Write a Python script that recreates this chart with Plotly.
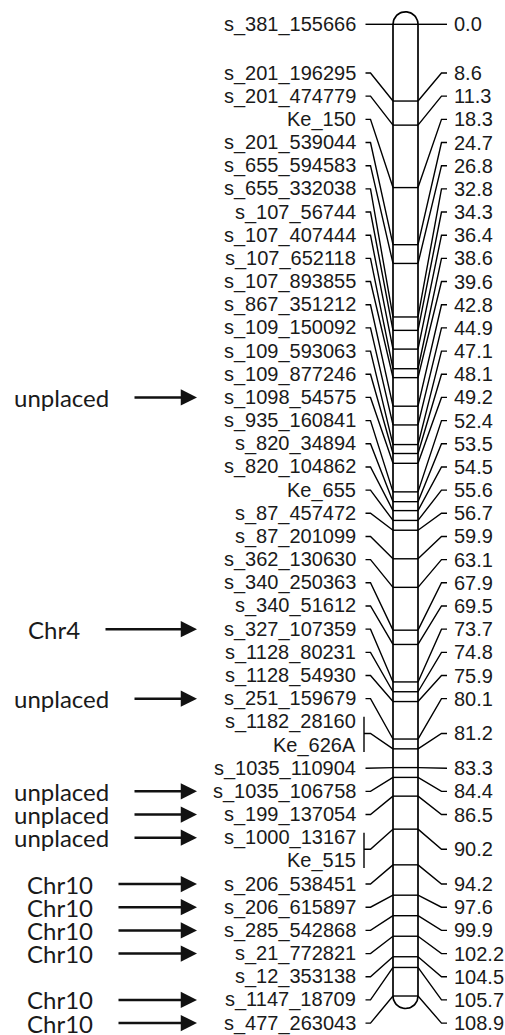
import math
import plotly.graph_objects as go

# ---------------- data ----------------
marker_names = [
    "s_381_155666", "s_201_196295", "s_201_474779", "Ke_150", "s_201_539044",
    "s_655_594583", "s_655_332038", "s_107_56744", "s_107_407444", "s_107_652118",
    "s_107_893855", "s_867_351212", "s_109_150092", "s_109_593063", "s_109_877246",
    "s_1098_54575", "s_935_160841", "s_820_34894", "s_820_104862", "Ke_655",
    "s_87_457472", "s_87_201099", "s_362_130630", "s_340_250363", "s_340_51612",
    "s_327_107359", "s_1128_80231", "s_1128_54930", "s_251_159679", "s_1182_28160",
    "Ke_626A", "s_1035_110904", "s_1035_106758", "s_199_137054", "s_1000_13167",
    "Ke_515", "s_206_538451", "s_206_615897", "s_285_542868", "s_21_772821",
    "s_12_353138", "s_1147_18709", "s_477_263043",
]
marker_cm = [
    0.0, 8.6, 11.3, 18.3, 24.7,
    26.8, 32.8, 34.3, 36.4, 38.6,
    39.6, 42.8, 44.9, 47.1, 48.1,
    49.2, 52.4, 53.5, 54.5, 55.6,
    56.7, 59.9, 63.1, 67.9, 69.5,
    73.7, 74.8, 75.9, 80.1, 81.2,
    81.2, 83.3, 84.4, 86.5, 90.2,
    90.2, 94.2, 97.6, 99.9, 102.2,
    104.5, 105.7, 108.9,
]
source_markers = [
    "s_1098_54575", "s_327_107359", "s_251_159679", "s_1035_106758",
    "s_199_137054", "s_1000_13167", "s_206_538451", "s_206_615897",
    "s_285_542868", "s_21_772821", "s_1147_18709", "s_477_263043",
]
source_labels = [
    "unplaced", "Chr4", "unplaced", "unplaced",
    "unplaced", "unplaced", "Chr10", "Chr10",
    "Chr10", "Chr10", "Chr10", "Chr10",
]

# ---------------- layout constants ----------------
FIG_W, FIG_H = 505, 1035
PX_PER_CM = 8.923
TOP_OFFSET_PX = 24.3
Y_TOP = -TOP_OFFSET_PX / PX_PER_CM
Y_BOT = (FIG_H - TOP_OFFSET_PX) / PX_PER_CM


def cm(px_len):
    return px_len / PX_PER_CM


LABEL_START = 5.458
LABEL_STEP = 2.597
CHR_L, CHR_R = 393, 418
CHR_R_PX = (CHR_R - CHR_L) / 2
CHR_CX = (CHR_L + CHR_R) / 2
LEFT_TEXT_X = 358
LEFT_STUB_A, LEFT_STUB_B = 365.5, 370.5
BRACKET_X = 364
RIGHT_BEND, RIGHT_END = 441.5, 447
RIGHT_TEXT_X = 452
ARROW_TIP = 197
ARROW_TAIL = {"unplaced": 133, "Chr4": 104, "Chr10": 117}
ARROW_GAP = 22
INK = "#000000"
LABEL_FONT = dict(family="Liberation Sans, Arial, sans-serif", size=20, color="#1a1a1a")
SRC_FONT = dict(family="Lato, Carlito, Calibri, sans-serif", size=24, color="#1a1a1a")

# label slot positions (in cM units of the axis)
label_y = [marker_cm[0]] + [LABEL_START + LABEL_STEP * (i - 1) for i in range(1, len(marker_names))]

# group co-located markers
groups = []
for i, p in enumerate(marker_cm):
    if groups and groups[-1]["pos"] == p:
        groups[-1]["idx"].append(i)
    else:
        groups.append({"pos": p, "idx": [i]})

lx, ly = [], []


def seg(xs, ys):
    lx.extend(xs + [None])
    ly.extend(ys + [None])


annotations = []
for g in groups:
    p = g["pos"]
    ys = [label_y[i] for i in g["idx"]]
    mid = sum(ys) / len(ys)
    if len(ys) == 1:
        seg([LEFT_STUB_A, LEFT_STUB_B, CHR_L], [mid, mid, p])
    else:
        seg([BRACKET_X, BRACKET_X], [min(ys) - cm(5), max(ys) + cm(7)])
        seg([BRACKET_X, LEFT_STUB_B, CHR_L], [mid, mid, p])
    seg([CHR_L, CHR_R], [p, p])
    seg([CHR_R, RIGHT_BEND, RIGHT_END], [p, mid, mid])
    annotations.append(dict(x=RIGHT_TEXT_X, y=mid, xref="x", yref="y", text=f"{p:.1f}",
                            showarrow=False, xanchor="left", yanchor="middle", font=LABEL_FONT))
    for i in g["idx"]:
        annotations.append(dict(x=LEFT_TEXT_X, y=label_y[i], xref="x", yref="y",
                                text=marker_names[i], showarrow=False, xanchor="right",
                                yanchor="middle", font=LABEL_FONT))

# chromosome outline with rounded caps
cx, cy = [], []
n = 30
top, bot = marker_cm[0], marker_cm[-1]
for k in range(n + 1):
    th = math.pi - math.pi * k / n
    cx.append(CHR_CX + CHR_R_PX * math.cos(th))
    cy.append(top - cm(CHR_R_PX) * math.sin(th))
for k in range(n + 1):
    th = -math.pi * k / n
    cx.append(CHR_CX + CHR_R_PX * math.cos(th))
    cy.append(bot - cm(CHR_R_PX) * math.sin(th))
cx.append(cx[0])
cy.append(cy[0])

# source arrows
for name, lab in zip(source_markers, source_labels):
    yv = label_y[marker_names.index(name)]
    tail = ARROW_TAIL[lab]
    annotations.append(dict(x=ARROW_TIP, y=yv, ax=tail, ay=yv, xref="x", yref="y",
                            axref="x", ayref="y", text="", showarrow=True,
                            arrowhead=2, arrowsize=1.3, arrowwidth=2.5, arrowcolor="#111111"))
    annotations.append(dict(x=tail - ARROW_GAP, y=yv, xref="x", yref="y", text=lab,
                            showarrow=False, xanchor="right", yanchor="middle", font=SRC_FONT))

fig = go.Figure()
fig.add_trace(go.Scatter(x=lx, y=ly, mode="lines", line=dict(color=INK, width=1.4),
                         hoverinfo="skip", showlegend=False))
fig.add_trace(go.Scatter(x=cx, y=cy, mode="lines", line=dict(color=INK, width=1.7),
                         hoverinfo="skip", showlegend=False))

fig.update_layout(
    width=FIG_W, height=FIG_H,
    margin=dict(l=0, r=0, t=0, b=0),
    paper_bgcolor="white", plot_bgcolor="white",
    showlegend=False,
    annotations=annotations,
    xaxis=dict(range=[0, FIG_W], visible=False, fixedrange=True),
    yaxis=dict(range=[Y_BOT, Y_TOP], visible=False, fixedrange=True),
)
fig.write_html(
    "out.html",
    config={"displayModeBar": False, "staticPlot": True},
    post_script="document.body.style.margin='0';document.body.style.overflow='hidden';",
)
